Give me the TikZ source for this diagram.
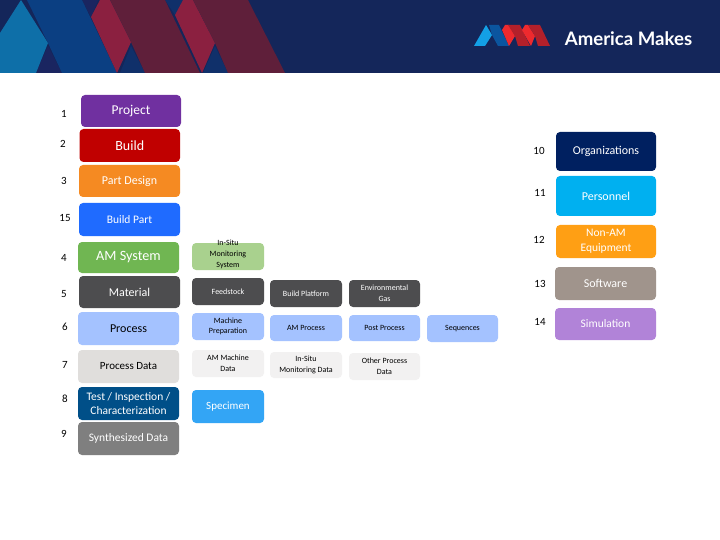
\documentclass[tikz,border=0pt]{standalone}
\usepackage{fontspec}
\setmainfont{Carlito}
\newfontfamily\logofont{Lato}
\definecolor{bannerbg}{HTML}{14265A}
\definecolor{bsky}{HTML}{0E6FA8}
\definecolor{bblue}{HTML}{0B3F82}
\definecolor{bnavy}{HTML}{10306A}
\definecolor{bdeep}{HTML}{1A2560}
\definecolor{bred}{HTML}{8B2040}
\definecolor{bmaroon}{HTML}{5F1F3A}
\definecolor{lsky}{HTML}{13A0E6}
\definecolor{lblue}{HTML}{0B559F}
\definecolor{lred}{HTML}{EE2A2E}
\definecolor{ldred}{HTML}{B3202A}
\definecolor{cproject}{HTML}{7030A0}
\definecolor{cbuild}{HTML}{C00000}
\definecolor{cpart}{HTML}{F58A22}
\definecolor{cbpart}{HTML}{1F6BFF}
\definecolor{cam}{HTML}{70B652}
\definecolor{cam2}{HTML}{A9D18E}
\definecolor{cmat}{HTML}{4D4D4F}
\definecolor{cproc}{HTML}{A4C2FF}
\definecolor{cpd}{HTML}{E0DEDC}
\definecolor{cpd2}{HTML}{F2F1F1}
\definecolor{ctest}{HTML}{004F88}
\definecolor{csyn}{HTML}{7F7F7F}
\definecolor{cspec}{HTML}{33A5F5}
\definecolor{corg}{HTML}{002060}
\definecolor{cpers}{HTML}{00B0F0}
\definecolor{cnon}{HTML}{FF9F14}
\definecolor{csoft}{HTML}{A0948C}
\definecolor{csim}{HTML}{B183D8}
\tikzset{
  x=1pt,y=-1pt,
  boxnode/.style={rounded corners=4pt,inner sep=0pt,align=center},
  num/.style={inner sep=0pt,font=\fontsize{11}{13}\selectfont,text=black},
}
\newcommand{\mk}[9]{%
  \node[boxnode,fill=#6,text=#7,minimum width={(#4-#2)*1pt},minimum height={(#5-#3)*1pt},
        font=\fontsize{#8}{\dimexpr#8pt*5/4\relax}\selectfont]
    (#1) at ({(#2+#4)/2},{(#3+#5)/2}) {#9};}
\begin{document}
\begin{tikzpicture}
\useasboundingbox (0,0) rectangle (720,540);
\fill[white] (0,0) rectangle (720,540);
% banner
\fill[bannerbg] (0,0) rectangle (720,73);
\fill[bdeep] (48,46) -- (36,73) -- (62,73) -- cycle;
\fill[bdeep] (82,0) -- (98,0) -- (91,17) -- cycle;
\fill[bnavy] (165,0) -- (183,0) -- (175,15) -- cycle;
\fill[bnavy] (131,46) -- (120,73) -- (145,73) -- cycle;
\fill[bnavy] (215,46) -- (203,73) -- (228,73) -- cycle;
\fill[bsky] (21,0) -- (48,43) -- (36,73) -- (0,73) -- (0,33) -- cycle;
\fill[bblue] (27,0) -- (82,0) -- (117,73) -- (62,73) -- (48,43) -- cycle;
\fill[bred] (100,0) -- (110,0) -- (131,42) -- (117,73) -- (91,17) -- cycle;
\fill[bmaroon] (110,0) -- (165,0) -- (200,73) -- (145,73) -- (131,42) -- cycle;
\fill[bred] (183,0) -- (193,0) -- (215,43) -- (202,73) -- (175,15) -- cycle;
\fill[bmaroon] (193,0) -- (248,0) -- (285,73) -- (228,73) -- (215,43) -- cycle;
% logo
\fill[lsky] (486,25) -- (492,35) -- (485,46) -- (474,46) -- cycle;
\fill[lblue] (489,25) -- (499,25) -- (509,46) -- (498,46) -- (492,35) -- cycle;
\fill[lred] (502,30) -- (505,25) -- (509,25) -- (515,36) -- (509,46) -- cycle;
\fill[ldred] (508,25) -- (520,25) -- (530,46) -- (518,46) -- (515,36) -- cycle;
\fill[lred] (522,30) -- (525,25) -- (528,25) -- (535,36) -- (531,46) -- cycle;
\fill[ldred] (528,25) -- (540,25) -- (550,46) -- (538,46) -- (535,36) -- cycle;
\node[inner sep=0pt,text=white,font=\logofont\bfseries\fontsize{18.6}{20}\selectfont] (logotext) at (628.5,38.5) {America Makes};
% main column
\mk{project}{81}{95}{181}{127}{cproject}{white}{13.5}{Project}
\mk{build}{79.5}{129}{180}{162}{cbuild}{white}{14}{Build}
\mk{partdesign}{79}{165}{180}{197}{cpart}{white}{12}{Part Design}
\mk{buildpart}{79}{203}{180}{236}{cbpart}{white}{11.5}{Build Part}
\mk{amsystem}{78}{242}{179}{273}{cam}{white}{14.2}{AM System}
\mk{material}{79}{276}{180}{308}{cmat}{white}{12}{\raisebox{-1pt}{Material}}
\mk{process}{78}{312}{179}{345}{cproc}{black}{12}{Process}
\mk{processdata}{78}{350}{179}{383}{cpd}{black}{11}{Process Data}
\mk{test}{78}{387}{179}{420}{ctest}{white}{11.5}{Test / Inspection /\\[-0.5pt]Characterization}
\mk{synth}{78}{422}{179}{455}{csyn}{white}{11.5}{Synthesized Data}
% second column
\mk{insitu}{192}{243}{264}{270}{cam2}{black}{8}{\\[-9pt]In-Situ\\[1pt]Monitoring\\[1pt]System}
\mk{feedstock}{192}{278}{264}{305}{cmat}{white}{8}{Feedstock}
\mk{machprep}{192}{313}{264}{340}{cproc}{black}{8}{Machine\\Preparation}
\mk{amdata}{192}{350}{264}{377}{cpd2}{black}{8}{AM Machine\\[1pt]Data}
\mk{specimen}{192}{390}{264}{423}{cspec}{white}{11}{Specimen}
% third column
\mk{platform}{270}{280}{342}{307}{cmat}{white}{8}{Build Platform}
\mk{amprocess}{270}{315}{342}{341}{cproc}{black}{8}{AM Process}
\mk{insitudata}{270}{352}{342}{378}{cpd2}{black}{8}{In-Situ\\[1pt]Monitoring Data}
% fourth column
\mk{envgas}{349}{280}{420}{307}{cmat}{white}{8}{Environmental\\[1pt]Gas}
\mk{postprocess}{349}{315}{420}{341}{cproc}{black}{8}{Post Process}
\mk{otherdata}{349}{353}{420}{380}{cpd2}{black}{8}{Other Process\\[1pt]Data}
\mk{sequences}{427}{315}{498}{342}{cproc}{black}{8}{Sequences}
% right column
\mk{orgs}{556}{132}{656}{171}{corg}{white}{12}{Organizations}
\mk{personnel}{556}{176}{656}{216}{cpers}{white}{12}{Personnel}
\mk{nonam}{556}{225}{656}{258}{cnon}{white}{11.5}{Non-AM\\[1pt]Equipment}
\mk{software}{555}{267}{656}{300}{csoft}{white}{12}{Software}
\mk{simulation}{555}{308}{656}{340}{csim}{white}{11.5}{Simulation}
% numbers
\node[num] (n1) at (64,114) {1};
\node[num] (n2) at (63,144) {2};
\node[num] (n3) at (64,181) {3};
\node[num] (n15) at (65,218) {15};
\node[num] (n4) at (64,258) {4};
\node[num] (n5) at (64,294) {5};
\node[num] (n6) at (65,327) {6};
\node[num] (n7) at (65,365) {7};
\node[num] (n8) at (65,399) {8};
\node[num] (n9) at (64,434) {9};
\node[num] (n10) at (539,151) {10};
\node[num] (n11) at (540,193) {11};
\node[num] (n12) at (539,240) {12};
\node[num] (n13) at (540,284) {13};
\node[num] (n14) at (540,322) {14};
\end{tikzpicture}
\end{document}
